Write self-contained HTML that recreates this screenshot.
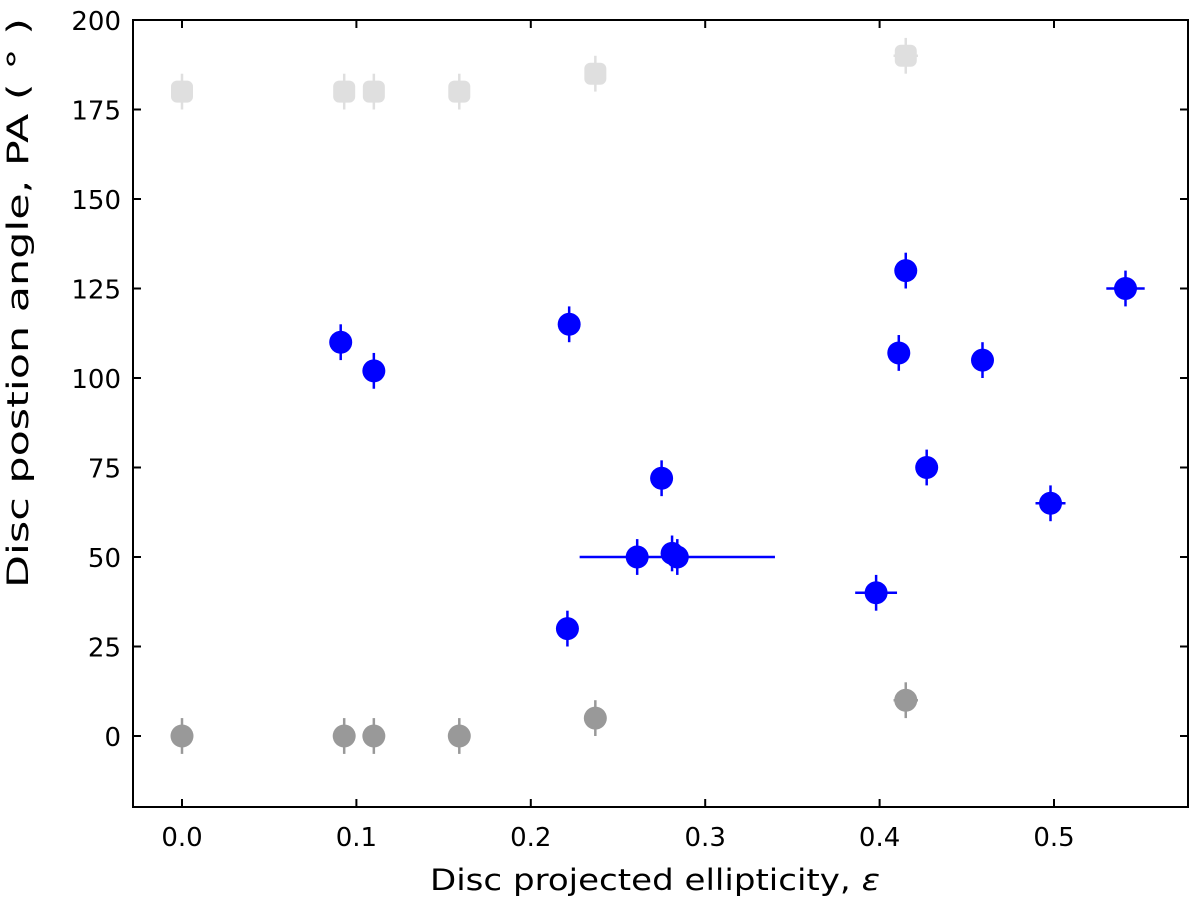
<!DOCTYPE html>
<html><head><meta charset="utf-8"><style>
body{margin:0;background:#fff;}
svg text{font-family:"DejaVu Sans","Liberation Sans",sans-serif;fill:#000;}
</style></head><body>
<svg id="chart" width="1200" height="905" viewBox="0 0 1200 905" xmlns="http://www.w3.org/2000/svg">
<g id="marks"></g>
<rect x="133" y="20" width="1055" height="787" fill="none" stroke="#000" stroke-width="2"/>
<g id="axes"></g>
<text x="655" y="890" font-size="29" text-anchor="middle" textLength="450" lengthAdjust="spacingAndGlyphs">Disc projected ellipticity, <tspan font-style="italic">ε</tspan></text>
<text transform="translate(28,303) rotate(-90)" font-size="29" text-anchor="middle" textLength="570" lengthAdjust="spacingAndGlyphs">Disc postion angle, PA ( ° )</text>
</svg>
<script>
const blueX=[0.091,0.110,0.222,0.221,0.261,0.275,0.281,0.284,0.411,0.415,0.427,0.398,0.459,0.498,0.541];
const blueY=[110,102,115,30,50,72,51,50,107,130,75,40,105,65,125];
const blueXErr=[0,0,0,0,0,0,0,0.056,0,0,0,0.012,0,0.0086,0.011];
const yErr=5;
const lightX=[0,0.093,0.110,0.159,0.237,0.415];
const lightY=[180,180,180,180,185,190];
const lightXErr=[0,0,0,0,0,0.007];
const greyX=[0,0.093,0.110,0.159,0.237,0.415];
const greyY=[0,0,0,0,5,10];
const greyXErr=[0,0,0,0,0,0.007];
const xTicks=[0,0.1,0.2,0.3,0.4,0.5];
const xTickLabels=["0.0","0.1","0.2","0.3","0.4","0.5"];
const yTicks=[0,25,50,75,100,125,150,175,200];
const yTickLabels=["0","25","50","75","100","125","150","175","200"];
const X=v=>182+v*1744, Y=v=>736-v*3.58;
const NS="http://www.w3.org/2000/svg";
const marks=document.getElementById('marks'), axes=document.getElementById('axes');
function mk(tag,attrs,parent){const e=document.createElementNS(NS,tag);for(const k in attrs)e.setAttribute(k,attrs[k]);parent.appendChild(e);return e;}
function drawSeries(xs,ys,xe,col,shape,op,name){
 xs.forEach((x,i)=>{
  const g=mk('g',{opacity:op},marks);
  
  
  const cx=X(x),cy=Y(ys[i]);
  mk('line',{x1:cx,x2:cx,y1:Y(ys[i]+yErr),y2:Y(ys[i]-yErr),stroke:col,'stroke-width':2.5},g);
  if(xe[i]>0)mk('line',{x1:X(x-xe[i]),x2:X(x+xe[i]),y1:cy,y2:cy,stroke:col,'stroke-width':2.5},g);
  if(shape==='sq')mk('rect',{x:cx-11,y:cy-11,width:22,height:22,rx:6,fill:col},g);
  else mk('circle',{cx:cx,cy:cy,r:11.5,fill:col},g);
 });
}
drawSeries(lightX,lightY,lightXErr,'#b0b0b0','sq',0.4,'flipped-pa');
drawSeries(greyX,greyY,greyXErr,'#999999','c',1,'grey');
drawSeries(blueX,blueY,blueXErr,'#0000ff','c',1,'blue');
xTicks.forEach((t,i)=>{
 const x=X(t);
 mk('line',{x1:x,x2:x,y1:807,y2:799,stroke:'#000','stroke-width':2},axes);
 mk('line',{x1:x,x2:x,y1:20,y2:28,stroke:'#000','stroke-width':2},axes);
 const tx=mk('text',{x:x,y:846,'font-size':26,'text-anchor':'middle'},axes);
 
 
 tx.textContent=xTickLabels[i];
});
yTicks.forEach((t,i)=>{
 const y=Y(t);
 mk('line',{x1:133,x2:141,y1:y,y2:y,stroke:'#000','stroke-width':2},axes);
 mk('line',{x1:1188,x2:1180,y1:y,y2:y,stroke:'#000','stroke-width':2},axes);
 const tx=mk('text',{x:121,y:y+10,'font-size':26,'text-anchor':'end'},axes);
 
 
 tx.textContent=yTickLabels[i];
});
</script>
</body></html>
